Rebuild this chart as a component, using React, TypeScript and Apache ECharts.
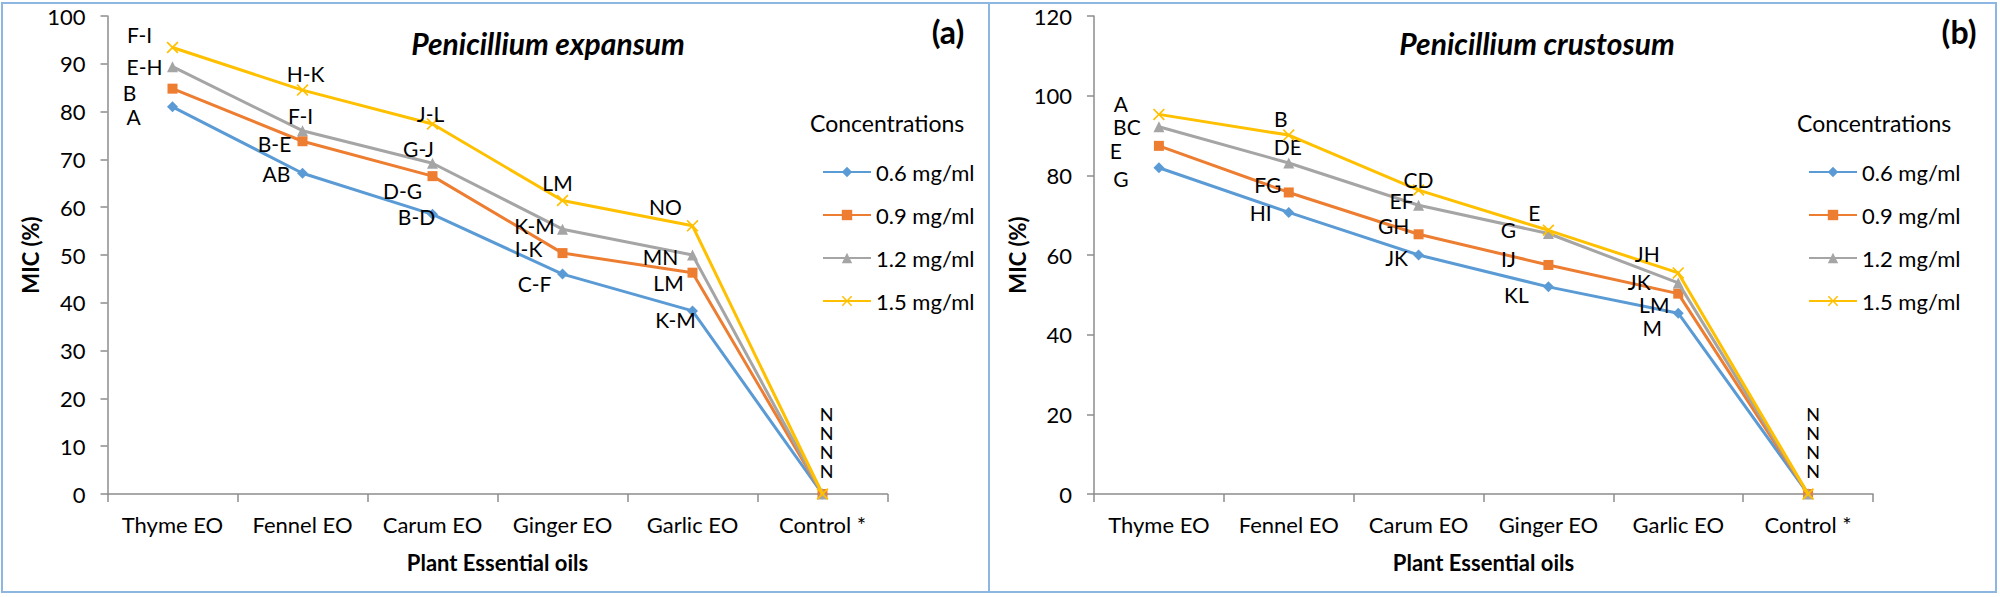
import * as echarts from 'echarts';
import { useEffect, useRef } from 'react';

const categories = ['Thyme EO', 'Fennel EO', 'Carum EO', 'Ginger EO', 'Garlic EO', 'Control *'];
const seriesNames = ['0.6 mg/ml', '0.9 mg/ml', '1.2 mg/ml', '1.5 mg/ml'];

// Penicillium expansum (a)
const expansum06 = [81.0, 67.1, 58.5, 46.0, 38.3, 0];
const expansum09 = [84.8, 73.8, 66.5, 50.4, 46.3, 0];
const expansum12 = [89.4, 76.0, 69.2, 55.4, 50.0, 0];
const expansum15 = [93.4, 84.5, 77.4, 61.4, 56.1, 0];

// Penicillium crustosum (b)
const crustosum06 = [81.9, 70.7, 60.0, 52.0, 45.4, 0];
const crustosum09 = [87.4, 75.7, 65.2, 57.5, 50.3, 0];
const crustosum12 = [92.2, 83.1, 72.5, 65.4, 53.0, 0];
const crustosum15 = [95.3, 90.1, 76.3, 66.2, 55.5, 0];

// significance letters
const expansumLetters06 = ['A', 'AB', 'B-D', 'C-F', 'K-M', 'N'];
const expansumLetters09 = ['B', 'B-E', 'D-G', 'I-K', 'LM', 'N'];
const expansumLetters12 = ['E-H', 'F-I', 'G-J', 'K-M', 'MN', 'N'];
const expansumLetters15 = ['F-I', 'H-K', 'J-L', 'LM', 'NO', 'N'];
const crustosumLetters06 = ['G', 'HI', 'JK', 'KL', 'M', 'N'];
const crustosumLetters09 = ['E', 'FG', 'GH', 'IJ', 'LM', 'N'];
const crustosumLetters12 = ['BC', 'DE', 'EF', 'G', 'JK', 'N'];
const crustosumLetters15 = ['A', 'B', 'CD', 'E', 'JH', 'N'];

// label offsets (px) from each point
const expansumOffsets06 = [[-39, 10], [-26, 0], [-16, 2], [-28, 9], [-17, 9], [4, -23]];
const expansumOffsets09 = [[-43, 4], [-28, 2], [-30, 14], [-34, -5], [-24, 10], [4, -42]];
const expansumOffsets12 = [[-28, 0], [-2, -15], [-14, -15], [-28, -4], [-32, 1], [4, -61]];
const expansumOffsets15 = [[-33, -13], [3, -17], [-2, -11], [-5, -18], [-27, -19], [4, -80]];
const crustosumOffsets06 = [[-38, 11], [-28, 0], [-22, 2], [-32, 8], [-26, 14], [5, -23]];
const crustosumOffsets09 = [[-43, 5], [-21, -8], [-25, -9], [-40, -6], [-24, 11], [5, -42]];
const crustosumOffsets12 = [[-32, 0], [-1, -16], [-17, -5], [-40, -4], [-39, -1], [5, -61]];
const crustosumOffsets15 = [[-38, -11], [-8, -17], [0, -11], [-14, -18], [-31, -19], [5, -80]];

const expansumTicks = { min: 0, max: 100, interval: 10 };
const crustosumTicks = { min: 0, max: 120, interval: 20 };

const colors = ['#5B9BD5', '#ED7D31', '#A5A5A5', '#FFC000'];
const crossPath = 'path://M0,1L1,0L5,4L9,0L10,1L6,5L10,9L9,10L5,6L1,10L0,9L4,5Z';
const symbols = ['diamond', 'rect', 'triangle', crossPath];
const symbolSizes = [11, 10, 11, 12];

const FONT = 'Lato, "Open Sans", sans-serif';
const AXIS = '#8c8c8c';
const BORDER = '#8DB6E1';

function makeSeries(values: number[], letters: string[], offsets: number[][], idx: number, axis: number) {
  return {
    type: 'line',
    name: seriesNames[idx],
    xAxisIndex: axis,
    yAxisIndex: axis,
    data: values.map((v, i) => ({
      value: v,
      label: {
        formatter: letters[i],
        offset: offsets[i],
        // the stacked control letters sit tighter
        ...(i === values.length - 1 ? { fontSize: 18, lineHeight: 18 } : {})
      }
    })),
    symbol: symbols[idx],
    symbolSize: symbolSizes[idx],
    showSymbol: true,
    lineStyle: { width: 3, color: colors[idx] },
    itemStyle: { color: colors[idx] },
    label: {
      show: true,
      position: 'inside',
      align: 'center',
      verticalAlign: 'middle',
      color: '#000',
      fontFamily: FONT,
      fontSize: 21
    },
    z: 2 + idx
  };
}

function xAxis(gridIndex: number) {
  return {
    type: 'category',
    gridIndex,
    data: categories,
    boundaryGap: true,
    name: 'Plant Essential oils',
    nameLocation: 'middle',
    nameGap: 57,
    nameTextStyle: { color: '#000', fontFamily: FONT, fontSize: 22, fontWeight: 'bold' },
    axisLine: { lineStyle: { color: AXIS, width: 1.5 } },
    axisTick: { show: true, length: 8, lineStyle: { color: AXIS, width: 1.5 } },
    axisLabel: { interval: 0, color: '#000', fontFamily: FONT, fontSize: 22, margin: 19 },
    splitLine: { show: false }
  };
}

function yAxis(gridIndex: number, t: { min: number; max: number; interval: number }) {
  return {
    type: 'value',
    gridIndex,
    min: t.min,
    max: t.max,
    interval: t.interval,
    name: 'MIC (%)',
    nameLocation: 'middle',
    nameRotate: 90,
    nameGap: 66,
    nameTextStyle: { color: '#000', fontFamily: FONT, fontSize: 22, fontWeight: 'bold' },
    axisLine: { show: true, lineStyle: { color: AXIS, width: 1.5 } },
    axisTick: { show: true, length: 7, lineStyle: { color: AXIS, width: 1.5 } },
    axisLabel: { color: '#000', fontFamily: FONT, fontSize: 22, margin: 22 },
    splitLine: { show: false }
  };
}

function legend(left: number) {
  return {
    orient: 'vertical',
    left,
    top: 156,
    itemWidth: 48,
    itemHeight: 13,
    itemGap: 21,
    data: seriesNames,
    textStyle: { color: '#000', fontFamily: FONT, fontSize: 22, lineHeight: 22 },
    selectedMode: false
  };
}

export default function App() {
  const elRef = useRef<HTMLDivElement | null>(null);

  useEffect(() => {
    if (!elRef.current) return;
    const chart = echarts.init(elRef.current, undefined, { renderer: 'svg' });

    const text = (x: number, y: number, t: string, size: number, extra: any = {}) => ({
      type: 'text',
      x,
      y,
      style: {
        text: t,
        fill: '#000',
        fontFamily: FONT,
        fontSize: size,
        align: 'center',
        verticalAlign: 'middle',
        ...extra
      }
    });

    chart.setOption({
      animation: false,
      backgroundColor: '#fff',
      grid: [
        { left: 107.5, top: 16, width: 780, height: 478 },
        { left: 1094, top: 16, width: 779, height: 478 }
      ],
      xAxis: [xAxis(0), xAxis(1)],
      yAxis: [yAxis(0, expansumTicks), yAxis(1, crustosumTicks)],
      legend: [legend(817), legend(1803)],
      series: [
        makeSeries(expansum06, expansumLetters06, expansumOffsets06, 0, 0),
        makeSeries(expansum09, expansumLetters09, expansumOffsets09, 1, 0),
        makeSeries(expansum12, expansumLetters12, expansumOffsets12, 2, 0),
        makeSeries(expansum15, expansumLetters15, expansumOffsets15, 3, 0),
        makeSeries(crustosum06, crustosumLetters06, crustosumOffsets06, 0, 1),
        makeSeries(crustosum09, crustosumLetters09, crustosumOffsets09, 1, 1),
        makeSeries(crustosum12, crustosumLetters12, crustosumOffsets12, 2, 1),
        makeSeries(crustosum15, crustosumLetters15, crustosumOffsets15, 3, 1)
      ],
      graphic: [
        {
          type: 'rect',
          shape: { x: 2, y: 3, width: 987, height: 589 },
          style: { fill: 'none', stroke: BORDER, lineWidth: 2 },
          silent: true
        },
        {
          type: 'rect',
          shape: { x: 989, y: 3, width: 1007, height: 589 },
          style: { fill: 'none', stroke: BORDER, lineWidth: 2 },
          silent: true
        },
        text(548, 43, 'Penicillium expansum', 30, { fontWeight: 'bold', fontStyle: 'italic' }),
        text(1537, 43, 'Penicillium crustosum', 30, { fontWeight: 'bold', fontStyle: 'italic' }),
        text(948, 31, '(a)', 32, { fontWeight: 'bold' }),
        text(1959, 31, '(b)', 32, { fontWeight: 'bold' }),
        text(810, 123, 'Concentrations', 23, { align: 'left' }),
        text(1797, 123, 'Concentrations', 23, { align: 'left' })
      ]
    });

    return () => chart.dispose();
  }, []);

  return (
    <div
      ref={elRef}
      style={{ position: 'fixed', left: 0, top: 0, width: 2000, height: 597, background: '#fff' }}
    />
  );
}
